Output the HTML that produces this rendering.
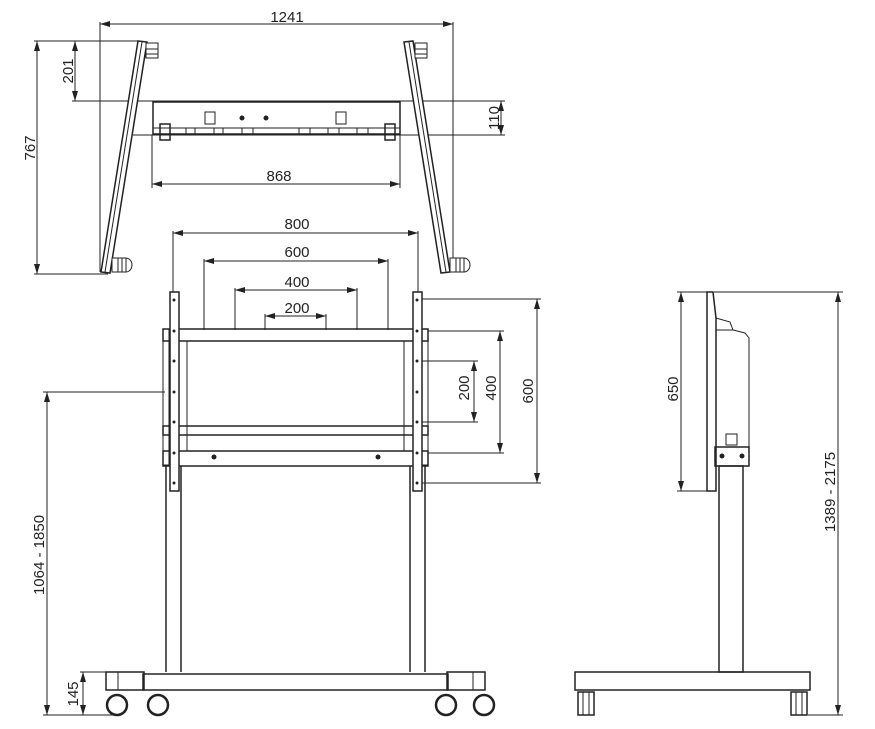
<!DOCTYPE html>
<html><head><meta charset="utf-8"><style>
html,body{margin:0;padding:0;background:#fff}
svg{display:block}
text{font-family:"Liberation Sans",Arial,sans-serif;font-size:15px;fill:#222}
</style></head><body>
<svg width="875" height="729" viewBox="0 0 875 729" xmlns="http://www.w3.org/2000/svg">
<defs>
<marker id="a" viewBox="0 0 10 6" refX="10" refY="3" markerWidth="10" markerHeight="6" orient="auto-start-reverse" markerUnits="userSpaceOnUse"><path d="M0,0L10,3L0,6z" fill="#222"/></marker>
</defs>
<g stroke="#222" stroke-width="1" fill="none">
<!-- TOP VIEW dims -->
<line x1="100" y1="22" x2="100" y2="272"/>
<line x1="453" y1="22" x2="453" y2="272"/>
<line x1="100" y1="24" x2="453" y2="24" marker-start="url(#a)" marker-end="url(#a)"/>
<line x1="34" y1="41" x2="140" y2="41"/>
<line x1="34" y1="274" x2="108" y2="274"/>
<line x1="37" y1="41" x2="37" y2="274" marker-start="url(#a)" marker-end="url(#a)"/>
<line x1="72" y1="101" x2="505" y2="101"/>
<line x1="75" y1="41" x2="75" y2="101" marker-start="url(#a)" marker-end="url(#a)"/>
<line x1="133" y1="135" x2="505" y2="135"/>
<line x1="501" y1="101" x2="501" y2="135" marker-start="url(#a)" marker-end="url(#a)"/>
<line x1="152" y1="135" x2="152" y2="188"/>
<line x1="400" y1="135" x2="400" y2="188"/>
<line x1="152" y1="184" x2="400" y2="184" marker-start="url(#a)" marker-end="url(#a)"/>
<!-- legs -->
<polygon points="138,41 147,42 110,273 101,272" stroke-width="1.5" fill="#fff"/>
<line x1="142" y1="42" x2="105" y2="272"/>
<polygon points="404,42 413,41 450,272 441,273" stroke-width="1.5" fill="#fff"/>
<line x1="409" y1="42" x2="446" y2="272"/>
<rect x="146" y="43" width="12" height="15" fill="#fff"/>
<line x1="146" y1="49" x2="158" y2="49"/><line x1="146" y1="54" x2="158" y2="54"/>
<rect x="415" y="43" width="12" height="15" fill="#fff"/>
<line x1="415" y1="49" x2="427" y2="49"/><line x1="415" y1="54" x2="427" y2="54"/>
<rect x="112" y="258" width="14" height="14" fill="#fff"/>
<path d="M126,258 A6,7 0 0 1 126,272"/>
<line x1="118" y1="258" x2="118" y2="272"/><line x1="122" y1="258" x2="122" y2="272"/>
<rect x="450" y="258" width="14" height="14" fill="#fff"/>
<path d="M464,258 A6,7 0 0 1 464,272"/>
<line x1="456" y1="258" x2="456" y2="272"/><line x1="460" y1="258" x2="460" y2="272"/>
<!-- bracket -->
<rect x="153" y="102" width="247" height="32" stroke-width="1.5"/>
<line x1="153" y1="128" x2="400" y2="128"/>
<rect x="205" y="112" width="10" height="12"/>
<rect x="336" y="112" width="10" height="12"/>
<rect x="186" y="128" width="9" height="6"/><rect x="214" y="128" width="9" height="6"/>
<rect x="242" y="128" width="11" height="6"/><rect x="299" y="128" width="11" height="6"/>
<rect x="328" y="128" width="11" height="6"/><rect x="357" y="128" width="11" height="6"/>
<rect x="160" y="124" width="10" height="16" stroke-width="1.5"/>
<rect x="385" y="124" width="10" height="16" stroke-width="1.5"/>
<!-- FRONT VIEW dims -->
<line x1="173" y1="231" x2="173" y2="295"/><line x1="418" y1="231" x2="418" y2="295"/>
<line x1="173" y1="233" x2="418" y2="233" marker-start="url(#a)" marker-end="url(#a)"/>
<line x1="204" y1="259" x2="204" y2="330"/><line x1="388" y1="259" x2="388" y2="330"/>
<line x1="204" y1="261" x2="388" y2="261" marker-start="url(#a)" marker-end="url(#a)"/>
<line x1="235" y1="288" x2="235" y2="330"/><line x1="357" y1="288" x2="357" y2="330"/>
<line x1="235" y1="290" x2="357" y2="290" marker-start="url(#a)" marker-end="url(#a)"/>
<line x1="265" y1="314" x2="265" y2="330"/><line x1="326" y1="314" x2="326" y2="330"/>
<line x1="265" y1="316" x2="326" y2="316" marker-start="url(#a)" marker-end="url(#a)"/>
<line x1="422" y1="299" x2="541" y2="299"/><line x1="422" y1="483" x2="541" y2="483"/>
<line x1="537" y1="299" x2="537" y2="483" marker-start="url(#a)" marker-end="url(#a)"/>
<line x1="428" y1="331" x2="504" y2="331"/><line x1="428" y1="453" x2="504" y2="453"/>
<line x1="500" y1="331" x2="500" y2="453" marker-start="url(#a)" marker-end="url(#a)"/>
<line x1="422" y1="361" x2="478" y2="361"/><line x1="422" y1="422" x2="478" y2="422"/>
<line x1="474" y1="361" x2="474" y2="422" marker-start="url(#a)" marker-end="url(#a)"/>
<line x1="43" y1="392" x2="165" y2="392"/><line x1="43" y1="715" x2="120" y2="715"/>
<line x1="47" y1="392" x2="47" y2="715" marker-start="url(#a)" marker-end="url(#a)"/>
<line x1="80" y1="672" x2="106" y2="672"/>
<line x1="83" y1="672" x2="83" y2="715" marker-start="url(#a)" marker-end="url(#a)"/>
<!-- frame -->
<rect x="163" y="329" width="265" height="12" stroke-width="1.5"/>
<line x1="187" y1="341" x2="187" y2="451"/><line x1="404" y1="341" x2="404" y2="451"/>
<rect x="163" y="426" width="265" height="9" stroke-width="1.5"/>
<rect x="163" y="451" width="265" height="15" stroke-width="1.5"/>
<rect x="163" y="329" width="6" height="136"/><rect x="422" y="329" width="6" height="136"/>
<rect x="170" y="292" width="9" height="199" fill="#fff" stroke-width="1.5"/>
<rect x="413" y="292" width="9" height="199" fill="#fff" stroke-width="1.5"/>
<!-- columns -->
<line x1="166" y1="466" x2="166" y2="672" stroke-width="1.5"/><line x1="181" y1="466" x2="181" y2="672" stroke-width="1.5"/>
<line x1="410" y1="466" x2="410" y2="672" stroke-width="1.5"/><line x1="425" y1="466" x2="425" y2="672" stroke-width="1.5"/>
<!-- base -->
<rect x="143" y="674" width="305" height="16" stroke-width="1.5"/>
<rect x="106" y="672" width="38" height="18" stroke-width="1.5"/>
<rect x="447" y="672" width="38" height="18" stroke-width="1.5"/>
<line x1="118" y1="672" x2="118" y2="690"/><line x1="473" y1="672" x2="473" y2="690"/>
<circle cx="117" cy="705" r="10" stroke-width="2.5"/>
<circle cx="158" cy="705" r="10" stroke-width="2.5"/>
<circle cx="446" cy="705" r="10" stroke-width="2.5"/>
<circle cx="484" cy="705" r="10" stroke-width="2.5"/>
<!-- SIDE VIEW -->
<line x1="714" y1="292" x2="843" y2="292"/><line x1="808" y1="715" x2="843" y2="715"/>
<line x1="838" y1="292" x2="838" y2="715" marker-start="url(#a)" marker-end="url(#a)"/>
<line x1="677" y1="292" x2="708" y2="292"/><line x1="677" y1="491" x2="708" y2="491"/>
<line x1="681" y1="292" x2="681" y2="491" marker-start="url(#a)" marker-end="url(#a)"/>
<polygon points="707,292 713,292 716,318 716,491 707,491" stroke-width="1.5"/>
<polyline points="716,318 730,322 733,330 745,333 749,338 749,460"/>
<line x1="716" y1="330" x2="733" y2="330"/>
<rect x="726" y="434" width="11" height="11"/>
<rect x="715" y="447" width="34" height="19" stroke-width="1.5"/>
<circle cx="722" cy="456" r="2" fill="#222"/><circle cx="742" cy="456" r="2" fill="#222"/>
<rect x="719" y="466" width="24" height="206" stroke-width="1.5"/>
<rect x="575" y="672" width="235" height="18" stroke-width="1.5"/>
<rect x="578" y="692" width="16" height="23" stroke-width="1.5"/>
<line x1="583" y1="692" x2="583" y2="715"/><line x1="589" y1="692" x2="589" y2="715"/>
<rect x="791" y="692" width="16" height="23" stroke-width="1.5"/>
<line x1="796" y1="692" x2="796" y2="715"/><line x1="802" y1="692" x2="802" y2="715"/>
</g>
<g fill="#222">
<circle cx="242" cy="118" r="2.5"/><circle cx="266" cy="118" r="2.5"/>
<circle cx="214" cy="457" r="2.5"/><circle cx="378" cy="457" r="2.5"/>
<circle cx="174" cy="300" r="1.5"/><circle cx="174" cy="331" r="1.5"/><circle cx="174" cy="361" r="1.5"/><circle cx="174" cy="392" r="1.5"/><circle cx="174" cy="422" r="1.5"/><circle cx="174" cy="453" r="1.5"/><circle cx="174" cy="483" r="1.5"/>
<circle cx="417" cy="300" r="1.5"/><circle cx="417" cy="331" r="1.5"/><circle cx="417" cy="361" r="1.5"/><circle cx="417" cy="392" r="1.5"/><circle cx="417" cy="422" r="1.5"/><circle cx="417" cy="453" r="1.5"/><circle cx="417" cy="483" r="1.5"/>
</g>
<text x="287" y="22" text-anchor="middle">1241</text>
<text x="279" y="181" text-anchor="middle">868</text>
<text x="297" y="229" text-anchor="middle">800</text>
<text x="297" y="257" text-anchor="middle">600</text>
<text x="297" y="287" text-anchor="middle">400</text>
<text x="297" y="313" text-anchor="middle">200</text>
<text transform="translate(35,148) rotate(-90)" text-anchor="middle">767</text>
<text transform="translate(73,71) rotate(-90)" text-anchor="middle">201</text>
<text transform="translate(499,118) rotate(-90)" text-anchor="middle">110</text>
<text transform="translate(469,388) rotate(-90)" text-anchor="middle">200</text>
<text transform="translate(496,388) rotate(-90)" text-anchor="middle">400</text>
<text transform="translate(533,391) rotate(-90)" text-anchor="middle">600</text>
<text transform="translate(44,555) rotate(-90)" text-anchor="middle">1064 - 1850</text>
<text transform="translate(78,694) rotate(-90)" text-anchor="middle">145</text>
<text transform="translate(678,389) rotate(-90)" text-anchor="middle">650</text>
<text transform="translate(835,492) rotate(-90)" text-anchor="middle">1389 - 2175</text>
</svg>
</body></html>
